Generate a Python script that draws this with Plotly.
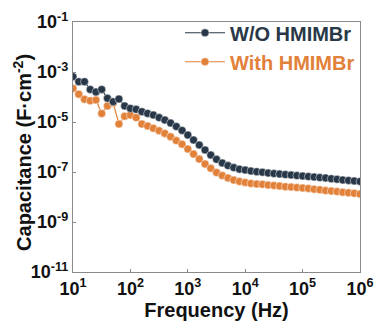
import plotly.graph_objects as go

freq = [10, 12.59, 15.85, 19.95, 25.12, 31.62, 39.81, 50.12, 63.1, 79.43,
        100, 125.9, 158.5, 199.5, 251.2, 316.2, 398.1, 501.2, 631, 794.3,
        1e3, 1259, 1585, 1995, 2512, 3162, 3981, 5012, 6310, 7943,
        1e4, 1.259e4, 1.585e4, 1.995e4, 2.512e4, 3.162e4, 3.981e4, 5.012e4, 6.31e4, 7.943e4,
        1e5, 1.259e5, 1.585e5, 1.995e5, 2.512e5, 3.162e5, 3.981e5, 5.012e5, 6.31e5, 7.943e5,
        1e6]

cap_without = [6.5e-4, 4.1e-4, 4.1e-4, 2.0e-4, 1.6e-4, 2.0e-4, 8.9e-5, 6.5e-5, 8.3e-5, 4.4e-5,
               3.5e-5, 3.2e-5, 2.6e-5, 2.2e-5, 1.9e-5, 1.5e-5, 1.2e-5, 9.1e-6, 6.6e-6, 4.6e-6,
               3.0e-6, 1.9e-6, 1.2e-6, 7.6e-7, 4.8e-7, 3.2e-7, 2.3e-7, 1.8e-7, 1.5e-7, 1.3e-7,
               1.2e-7, 1.1e-7, 1.03e-7, 9.8e-8, 9.1e-8, 8.7e-8, 8.3e-8, 7.9e-8, 7.6e-8, 7.2e-8,
               6.9e-8, 6.6e-8, 6.3e-8, 6.0e-8, 5.8e-8, 5.4e-8, 5.1e-8, 4.8e-8, 4.6e-8, 4.4e-8,
               4.2e-8]

cap_with = [2.2e-4, 1.3e-4, 8.1e-5, 7.1e-5, 7.6e-5, 2.2e-5, 4.4e-5, 5.8e-5, 8.3e-6, 1.7e-5,
            1.9e-5, 1.5e-5, 8.3e-6, 6.9e-6, 5.6e-6, 4.5e-6, 3.5e-6, 2.6e-6, 1.8e-6, 1.3e-6,
            8.3e-7, 5.2e-7, 3.3e-7, 2.1e-7, 1.4e-7, 9.5e-8, 7.2e-8, 5.8e-8, 4.8e-8, 4.2e-8,
            3.8e-8, 3.5e-8, 3.3e-8, 3.2e-8, 3.0e-8, 2.9e-8, 2.75e-8, 2.6e-8, 2.5e-8, 2.4e-8,
            2.3e-8, 2.2e-8, 2.05e-8, 1.95e-8, 1.8e-8, 1.74e-8, 1.65e-8, 1.55e-8, 1.48e-8, 1.4e-8,
            1.32e-8]

series_names = ["W/O HMIMBr", "With HMIMBr"]
series_colors = ["#283848", "#E2813A"]

x_tickvals = [1e1, 1e2, 1e3, 1e4, 1e5, 1e6]
x_ticktext = ["10<sup>1</sup>", "10<sup>2</sup>", "10<sup>3</sup>", "10<sup>4</sup>", "10<sup>5</sup>", "10<sup>6</sup>"]
y_tickvals = [1e-1, 1e-3, 1e-5, 1e-7, 1e-9, 1e-11]
y_ticktext = ["10<sup>-1</sup>", "10<sup>-3</sup>", "10<sup>-5</sup>", "10<sup>-7</sup>", "10<sup>-9</sup>", "10<sup>-11</sup>"]
x_title = "Frequency (Hz)"
y_title = "Capacitance (F·cm<sup>-2</sup>)"

FONT = "Liberation Sans, Arial, sans-serif"

fig = go.Figure()
# draw orange first so navy sits on top
for name, y, col in [(series_names[1], cap_with, series_colors[1]),
                     (series_names[0], cap_without, series_colors[0])]:
    fig.add_trace(go.Scatter(
        x=freq, y=y, mode="lines+markers",
        name=f'<span style="color:{col}">{name}</span>',
        line=dict(color=col, width=1.2),
        marker=dict(color=col, size=8, line=dict(color="rgba(255,255,255,0.6)", width=0.8)),
    ))

axis_common = dict(
    showline=True, linecolor="#8a8a8a", linewidth=1.2, mirror=True,
    ticks="inside", ticklen=3, tickcolor="#8a8a8a",
    showgrid=False, zeroline=False, automargin=False,
    tickfont=dict(family=FONT, size=18, color="#111", weight="bold"),
    title_font=dict(family=FONT, size=20, color="#111", weight="bold"),
)

fig.update_xaxes(type="log", range=[1, 6], tickvals=x_tickvals, ticktext=x_ticktext,
                 title_text=x_title, title_standoff=0, **axis_common)
fig.update_yaxes(type="log", range=[-11, -1], tickvals=y_tickvals, ticktext=y_ticktext,
                 **axis_common)

fig.add_annotation(text=y_title, xref="paper", yref="paper", x=-0.178, y=0.48,
                   xanchor="center", yanchor="middle", textangle=-90, showarrow=False,
                   font=dict(family=FONT, size=20, color="#111", weight="bold"))

fig.update_layout(
    width=378, height=323,
    margin=dict(l=73, r=18, t=22, b=51),
    paper_bgcolor="white", plot_bgcolor="white",
    showlegend=True,
    legend=dict(x=1.0, y=1.035, xanchor="right", yanchor="top", traceorder="reversed",
                bgcolor="rgba(0,0,0,0)", itemwidth=40,
                font=dict(family=FONT, size=20, weight="bold"),
                tracegroupgap=0),
)

fig.write_html("out.html")
